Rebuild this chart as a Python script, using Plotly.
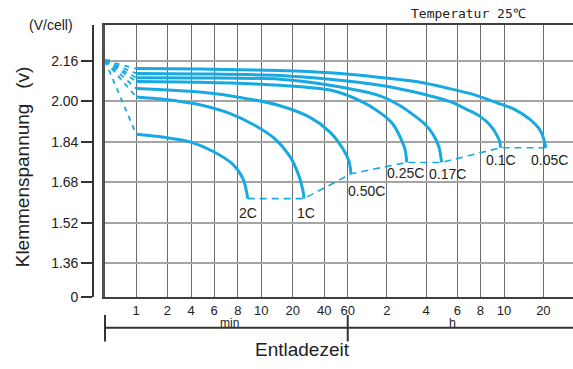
import numpy as np
import plotly.graph_objects as go

# ---------------- data (time in minutes, voltage in V/cell) ----------------
rates = ["2C", "1C", "0.50C", "0.25C", "0.17C", "0.1C", "0.05C"]

t_2C = [1, 1.97, 3.87, 5.90, 7.56, 8.42, 8.70, 8.78]
v_2C = [1.869, 1.856, 1.839, 1.801, 1.749, 1.691, 1.639, 1.615]

t_1C = [1, 2.16, 4.66, 7.29, 9.38, 13.5, 18.8, 22.9, 25.0, 25.6]
v_1C = [2.017, 2.005, 1.986, 1.951, 1.905, 1.851, 1.781, 1.704, 1.646, 1.615]

t_050C = [1, 4.66, 8.16, 15.1, 29.2, 44.1, 55.2, 61.4, 63.6]
v_050C = [2.050, 2.036, 2.015, 1.982, 1.936, 1.878, 1.812, 1.762, 1.713]

t_025C = [1, 4.66, 15.1, 44.1, 74.4, 106.5, 134.0, 151.8, 165.9, 170.8]
v_025C = [2.078, 2.075, 2.063, 2.044, 2.002, 1.955, 1.909, 1.859, 1.808, 1.758]

t_017C = [1, 4.66, 15.1, 44.1, 106.5, 151.8, 190.6, 235.6, 262.4, 283.5, 293.9]
v_017C = [2.093, 2.092, 2.087, 2.063, 2.021, 1.982, 1.947, 1.909, 1.870, 1.820, 1.758]

t_01C = [1, 4.66, 15.1, 44.1, 106.5, 180.8, 252.6, 328.5, 406.5, 478, 526.4, 560.7, 576.3, 580]
v_01C = [2.110, 2.108, 2.102, 2.087, 2.063, 2.040, 2.021, 1.998, 1.967, 1.940, 1.905, 1.866, 1.839, 1.816]

t_005C = [1, 4.66, 15.1, 44.1, 106.5, 215.9, 315.4, 447.3, 560.7, 727.6, 947.8, 1130, 1214, 1251]
v_005C = [2.129, 2.127, 2.121, 2.112, 2.094, 2.075, 2.052, 2.025, 1.994, 1.967, 1.928, 1.886, 1.847, 1.816]

curves_t = [t_2C, t_1C, t_050C, t_025C, t_017C, t_01C, t_005C]
curves_v = [v_2C, v_1C, v_050C, v_025C, v_017C, v_01C, v_005C]

origin_t = 0
origin_v = 2.16

# time axis tick values (minutes) and labels
tick_minutes = [1, 2, 4, 6, 8, 10, 20, 40, 60, 120, 240, 360, 480, 600, 1200]
tick_labels = ["1", "2", "4", "6", "8", "10", "20", "40", "60", "2", "4", "6", "8", "10", "20"]

# voltage axis ticks
v_ticks = [1.36, 1.52, 1.68, 1.84, 2.00, 2.16]
v_tick_labels = ["1.36", "1.52", "1.68", "1.84", "2.00", "2.16"]

# ---------------- irregular time scale of the chart ----------------
AXIS_KNOTS = [1.0, 2.0, 2.76, 3.5, 4.26, 5.01, 6.02, 7.03, 7.78, 9.03, 10.29, 11.29, 12.03, 12.79, 14.05]
Y_ZERO = 1.2244   # where the broken voltage axis shows "0"


def tpos(t):
    t = np.asarray(t, dtype=float)
    lt = np.log(np.maximum(t, 1e-9))
    lk = np.log(tick_minutes)
    out = np.interp(lt, lk, AXIS_KNOTS)
    slope = (AXIS_KNOTS[-1] - AXIS_KNOTS[-2]) / (lk[-1] - lk[-2])
    out = np.where(lt > lk[-1], AXIS_KNOTS[-1] + (lt - lk[-1]) * slope, out)
    out = np.where(t < 1, t * AXIS_KNOTS[0], out)
    return out


BLUE = "#18A9E2"
FONT = "Liberation Sans, Arial, sans-serif"
TXT = "#222222"

fig = go.Figure()

# start fan (dashed) from the origin to every curve start
for ts, vs in zip(curves_t, curves_v):
    fig.add_trace(go.Scatter(
        x=tpos([origin_t, ts[0]]), y=[origin_v, vs[0]], mode="lines",
        line=dict(color=BLUE, width=1.8, dash="5px,5px"), hoverinfo="skip", showlegend=False))

# main discharge curves
for ts, vs in zip(curves_t, curves_v):
    fig.add_trace(go.Scatter(
        x=tpos(ts), y=vs, mode="lines",
        line=dict(color=BLUE, width=3, shape="spline", smoothing=0.8),
        hoverinfo="skip", showlegend=False))

# dashed line joining the end voltages
end_t = [ts[-1] for ts in curves_t]
end_v = [vs[-1] for vs in curves_v]
fig.add_trace(go.Scatter(
    x=tpos(end_t), y=end_v, mode="lines",
    line=dict(color=BLUE, width=1.6, dash="7px,5px"), hoverinfo="skip", showlegend=False))

# origin marker
fig.add_trace(go.Scatter(
    x=tpos([origin_t]) + 0.06, y=[origin_v], mode="markers",
    marker=dict(color=BLUE, size=6, symbol="triangle-down"), hoverinfo="skip", showlegend=False))

# invisible trace for the free voltage axis
fig.add_trace(go.Scatter(x=[0], y=[Y_ZERO], yaxis="y2", mode="markers",
                         marker=dict(opacity=0), hoverinfo="skip", showlegend=False))

# rate labels
label_shift = {
    "2C": dict(xanchor="center", xshift=0, yshift=-4),
    "1C": dict(xanchor="center", xshift=2, yshift=-4),
    "0.50C": dict(xanchor="left", xshift=-5, yshift=-7),
    "0.25C": dict(xanchor="center", xshift=-1, yshift=-1),
    "0.17C": dict(xanchor="center", xshift=6, yshift=-2),
    "0.1C": dict(xanchor="center", xshift=1, yshift=-2),
    "0.05C": dict(xanchor="center", xshift=4, yshift=-2),
}
for name, ts, vs in zip(rates, curves_t, curves_v):
    s = label_shift[name]
    fig.add_annotation(x=float(tpos([ts[-1]])[0]), y=vs[-1], text=name, showarrow=False,
                       xanchor=s["xanchor"], yanchor="top", xshift=s["xshift"], yshift=s["yshift"],
                       font=dict(family=FONT, size=14, color=TXT))

W, H = 573, 369
x_dom0 = 105 / W
y_dom = [65 / H, 343 / H]

fig.update_layout(
    width=W, height=H, autosize=False, margin=dict(l=0, r=0, t=0, b=0, pad=0),
    paper_bgcolor="white", plot_bgcolor="white",
    xaxis=dict(domain=[x_dom0, 1], range=[0, 15.0], tickvals=list(tpos(tick_minutes)),
               ticktext=tick_labels, showgrid=True, gridcolor="#6c6c6c", gridwidth=1.2,
               showline=True, mirror=True, linecolor="#404040", linewidth=2,
               zeroline=False, ticks="", tickfont=dict(family=FONT, size=13, color=TXT)),
    yaxis=dict(domain=y_dom, range=[Y_ZERO, 2.2995], tickvals=v_ticks, showticklabels=False,
               showgrid=True, gridcolor="#a4a4a4", gridwidth=2, showline=True,
               linecolor="#505050", linewidth=2.5, zeroline=False, ticks=""),
    yaxis2=dict(overlaying="y", anchor="free", position=93 / W, side="left",
                range=[Y_ZERO, 2.2995], tickvals=[Y_ZERO] + v_ticks, ticktext=["0"] + v_tick_labels,
                showgrid=False, zeroline=False, showline=True, linecolor="#333333", linewidth=1.6,
                ticks="outside", ticklen=11, tickwidth=1.6, tickcolor="#333333",
                tickfont=dict(family=FONT, size=14, color=TXT)),
)

# bracket under the time axis
pos60 = float(tpos([60])[0])
bracket = dict(color="#333333", width=2)
fig.add_shape(type="line", xref="paper", yref="paper", x0=x_dom0, x1=1, y0=1 - 335 / H, y1=1 - 335 / H, line=bracket)
fig.add_shape(type="line", xref="paper", yref="paper", x0=x_dom0, x1=x_dom0, y0=1 - 322 / H, y1=1 - 349 / H, line=bracket)
fig.add_shape(type="line", xref="x", yref="paper", x0=pos60, x1=pos60, y0=1 - 322 / H, y1=1 - 349 / H, line=bracket)

ann = [
    dict(text="(V/cell)", x=75 / W, y=1 - 26 / H, xanchor="right", yanchor="middle", size=14),
    dict(text="min", x=229 / W, y=1 - 330.5 / H, xanchor="center", yanchor="middle", size=12),
    dict(text="h", x=452 / W, y=1 - 330 / H, xanchor="center", yanchor="middle", size=12.5),
    dict(text="Entladezeit", x=302 / W, y=1 - 357 / H, xanchor="center", yanchor="middle", size=19),
]
for a in ann:
    fig.add_annotation(text=a["text"], x=a["x"], y=a["y"], xref="paper", yref="paper",
                       xanchor=a["xanchor"], yanchor=a["yanchor"], showarrow=False,
                       font=dict(family=FONT, size=a["size"], color=TXT))

fig.add_annotation(text="Klemmenspannung\u2002 (v)", x=22 / W, y=1 - 171 / H, xref="paper", yref="paper",
                   textangle=-90, showarrow=False, xanchor="center", yanchor="middle",
                   font=dict(family=FONT, size=19, color=TXT))
fig.add_annotation(text="Temperatur 25\u2103", x=468 / W, y=1 - 14 / H, xref="paper", yref="paper",
                   showarrow=False, xanchor="center", yanchor="middle",
                   font=dict(family="DejaVu Sans Mono, monospace", size=13, color=TXT))

fig.write_html("out.html", config={"responsive": False})
